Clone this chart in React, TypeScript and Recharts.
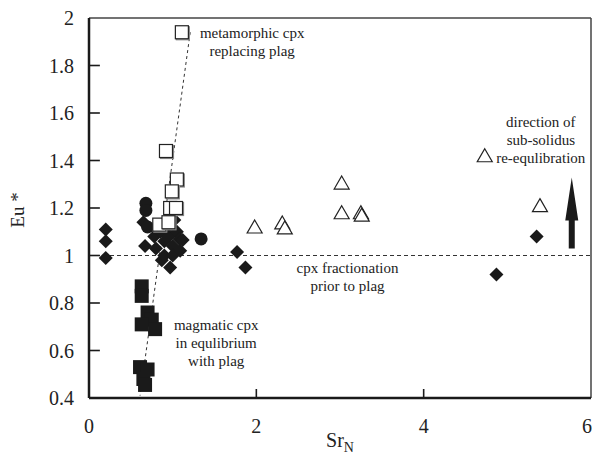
import React from 'react'
import { ScatterChart, Scatter, XAxis, YAxis, ReferenceLine, ReferenceDot } from 'recharts'

// Sr_N vs Eu* — clinopyroxene groups
const diamonds = [
  { sr: 0.2, eu: 1.11 }, { sr: 0.2, eu: 1.06 }, { sr: 0.2, eu: 0.99 },
  { sr: 0.65, eu: 1.14 }, { sr: 0.67, eu: 1.04 }, { sr: 0.78, eu: 1.08 },
  { sr: 0.8, eu: 1.03 }, { sr: 0.85, eu: 1.1 }, { sr: 0.87, eu: 0.98 },
  { sr: 0.9, eu: 1.06 }, { sr: 0.9, eu: 1.0 }, { sr: 0.95, eu: 1.08 },
  { sr: 0.95, eu: 1.12 }, { sr: 0.97, eu: 0.95 }, { sr: 1.0, eu: 1.04 },
  { sr: 1.0, eu: 1.0 }, { sr: 1.02, eu: 1.15 }, { sr: 1.05, eu: 1.1 },
  { sr: 1.08, eu: 1.07 }, { sr: 1.09, eu: 1.02 }, { sr: 1.12, eu: 1.065 },
  { sr: 1.77, eu: 1.015 }, { sr: 1.87, eu: 0.95 }, { sr: 4.87, eu: 0.92 },
  { sr: 5.35, eu: 1.08 },
]
const circles = [
  { sr: 0.68, eu: 1.22 }, { sr: 0.68, eu: 1.19 }, { sr: 0.7, eu: 1.12 }, { sr: 1.34, eu: 1.07 },
]
const magmatic = [
  { sr: 0.63, eu: 0.87 }, { sr: 0.63, eu: 0.83 }, { sr: 0.7, eu: 0.76 },
  { sr: 0.75, eu: 0.73 }, { sr: 0.63, eu: 0.71 }, { sr: 0.79, eu: 0.69 },
  { sr: 0.61, eu: 0.53 }, { sr: 0.7, eu: 0.52 }, { sr: 0.65, eu: 0.48 },
  { sr: 0.67, eu: 0.455 },
]
const metamorphic = [
  { sr: 1.11, eu: 1.94 }, { sr: 0.92, eu: 1.44 }, { sr: 1.05, eu: 1.32 },
  { sr: 0.99, eu: 1.27 }, { sr: 0.97, eu: 1.2 }, { sr: 1.04, eu: 1.2 },
  { sr: 0.84, eu: 1.13 }, { sr: 0.95, eu: 1.14 },
]
const triangles = [
  { sr: 1.98, eu: 1.12 }, { sr: 2.31, eu: 1.137 }, { sr: 2.34, eu: 1.116 },
  { sr: 3.02, eu: 1.305 }, { sr: 3.02, eu: 1.18 }, { sr: 3.25, eu: 1.18 },
  { sr: 3.26, eu: 1.17 }, { sr: 4.73, eu: 1.42 }, { sr: 5.39, eu: 1.21 },
]

const xTicks = [0, 2, 4, 6]
const yTicks = [0.4, 0.6, 0.8, 1, 1.2, 1.4, 1.6, 1.8, 2]
const xInnerTicks = [2, 4]
const yInnerTicks = [0.6, 0.8, 1, 1.2, 1.4, 1.6, 1.8]

const metamorphicTrend = [{ x: 1.21, y: 1.94 }, { x: 0.61, y: 0.41 }]
const notes = [
  { x: 1.95, y: 1.916, lines: ['metamorphic cpx', 'replacing plag'] },
  { x: 3.09, y: 0.926, lines: ['cpx fractionation', 'prior to plag'] },
  { x: 1.52, y: 0.686, lines: ['magmatic cpx', 'in equlibrium', 'with plag'] },
  { x: 5.4, y: 1.541, lines: ['direction of', 'sub-solidus', 're-equlibration'] },
]
const arrowBase = { x: 5.77, y: 1.03 }

const serif = "'Liberation Serif', 'Times New Roman', Times, serif"
const ink = '#1a1a1a'

const Diamond = ({ cx, cy }: any) => (
  <path d={`M${cx},${cy - 7}L${cx + 7},${cy}L${cx},${cy + 7}L${cx - 7},${cy}Z`} fill={ink} />
)
const Dot = ({ cx, cy }: any) => <circle cx={cx} cy={cy} r={6.5} fill={ink} />
const FilledSquare = ({ cx, cy }: any) => <rect x={cx - 7} y={cy - 7} width={14} height={14} fill={ink} />
const OpenSquare = ({ cx, cy }: any) => (
  <g>
    <rect x={cx - 5.5} y={cy - 5.5} width={13} height={13} fill="#fff" stroke="#888" strokeWidth={1.2} />
    <rect x={cx - 6.5} y={cy - 6.5} width={13} height={13} fill="#fff" stroke="#222" strokeWidth={1.2} />
  </g>
)
const Triangle = ({ cx, cy }: any) => (
  <path d={`M${cx},${cy - 7}L${cx + 7.5},${cy + 6}L${cx - 7.5},${cy + 6}Z`} fill="#fff" stroke="#222" strokeWidth={1.2} />
)

const Note = ({ cx, cy, lines }: any) => (
  <text x={cx} y={cy} textAnchor="middle" style={{ fontFamily: serif }} fontSize={15} fill="#222">
    {lines.map((l: string, i: number) => (
      <tspan key={i} x={cx} dy={i === 0 ? 0 : 18}>{l}</tspan>
    ))}
  </text>
)

const Arrow = ({ cx, cy }: any) => (
  <path
    d={`M${cx - 3},${cy}L${cx - 3},${cy - 28}L${cx - 6.5},${cy - 28}L${cx},${cy - 71}L${cx + 6.5},${cy - 28}L${cx + 3},${cy - 28}L${cx + 3},${cy}Z`}
    fill={ink}
  />
)

export default function App() {
  return (
    <div style={{ position: 'absolute', left: 0, top: 0, width: 592, height: 461, background: '#fff', fontFamily: serif }}>
      <ScatterChart width={592} height={461} margin={{ top: 18, right: 1, bottom: 0, left: 0 }}>
        <XAxis
          dataKey="sr" type="number" domain={[0, 6]} ticks={xTicks} height={63}
          stroke={ink} strokeWidth={2.5} tickLine={false} tickMargin={15}
          tick={{ fill: '#222', fontSize: 20, fontFamily: serif }}
          label={(p: any) => {
            const vb = p.viewBox
            return (
              <text x={vb.x + vb.width / 2} y={vb.y + 49} textAnchor="middle" style={{ fontFamily: serif }} fontSize={20} fill="#222">
                Sr<tspan fontSize={14} dy={5}>N</tspan>
              </text>
            )
          }}
        />
        <YAxis
          dataKey="eu" type="number" domain={[0.4, 2]} ticks={yTicks} width={89}
          stroke={ink} strokeWidth={2.5} tickLine={false} tickMargin={9}
          tick={{ fill: '#222', fontSize: 20, fontFamily: serif }}
          label={(p: any) => {
            const vb = p.viewBox
            const cx = vb.x + 24
            const cy = vb.y + vb.height / 2 + 2
            return (
              <text x={cx} y={cy} transform={`rotate(-90, ${cx}, ${cy})`} textAnchor="middle" style={{ fontFamily: serif }} fontSize={19} fill="#222">
                Eu *
              </text>
            )
          }}
        />
        <ReferenceLine y={2} stroke="#444" strokeWidth={1.5} />
        <ReferenceLine x={6} stroke="#444" strokeWidth={1.5} />
        <ReferenceLine y={1} stroke="#333" strokeWidth={1} strokeDasharray="4 3" />
        <ReferenceLine segment={metamorphicTrend} stroke="#333" strokeWidth={1} strokeDasharray="3 3" />
        {/* inward tick marks */}
        {yInnerTicks.map((v) => (
          <ReferenceLine key={'y' + v} segment={[{ x: 0, y: v }, { x: 0.13, y: v }]} stroke={ink} strokeWidth={1.6} />
        ))}
        {xInnerTicks.map((v) => (
          <ReferenceLine key={'x' + v} segment={[{ x: v, y: 0.4 }, { x: v, y: 0.438 }]} stroke={ink} strokeWidth={1.6} />
        ))}
        <Scatter data={diamonds} shape={Diamond} isAnimationActive={false} />
        <Scatter data={circles} shape={Dot} isAnimationActive={false} />
        <Scatter data={magmatic} shape={FilledSquare} isAnimationActive={false} />
        <Scatter data={metamorphic} shape={OpenSquare} isAnimationActive={false} />
        <Scatter data={triangles} shape={Triangle} isAnimationActive={false} />
        {notes.map((n, i) => (
          <ReferenceDot key={i} x={n.x} y={n.y} r={0} ifOverflow="visible"
            shape={(p: any) => <Note cx={p.cx} cy={p.cy} lines={n.lines} />} />
        ))}
        <ReferenceDot x={arrowBase.x} y={arrowBase.y} r={0} ifOverflow="visible"
          shape={(p: any) => <Arrow cx={p.cx} cy={p.cy} />} />
      </ScatterChart>
    </div>
  )
}
